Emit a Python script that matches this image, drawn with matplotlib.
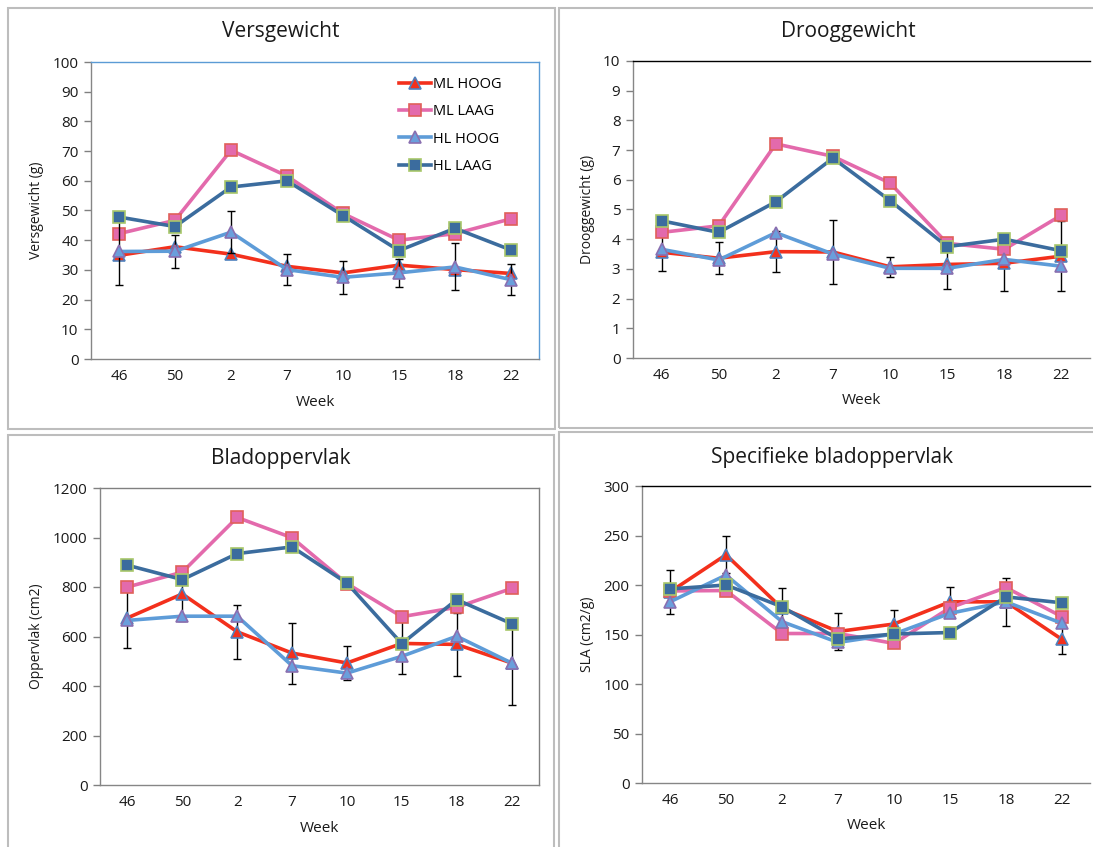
import matplotlib
matplotlib.use("Agg")
import matplotlib.pyplot as plt
from matplotlib.patches import Rectangle

plt.rcParams['font.family'] = ['Open Sans', 'DejaVu Sans']

weeks = ["46", "50", "2", "7", "10", "15", "18", "22"]
series = ["ML HOOG", "ML LAAG", "HL HOOG", "HL LAAG"]

# Versgewicht (g)
vers_ml_hoog = [34.9, 37.8, 35.3, 31.2, 29.0, 31.6, 30.1, 28.8]
vers_ml_laag = [42.2, 46.7, 70.3, 61.6, 49.0, 40.0, 42.2, 47.2]
vers_hl_hoog = [36.2, 36.3, 42.7, 30.1, 27.5, 29.0, 31.0, 26.7]
vers_hl_laag = [47.8, 44.6, 57.9, 60.0, 48.3, 36.5, 44.0, 36.7]
vers_err = [11.3, 5.6, 7.0, 5.2, 5.6, 4.7, 7.9, 5.3]   # on HL HOOG

# Drooggewicht (g)
droog_ml_hoog = [3.56, 3.36, 3.58, 3.57, 3.07, 3.15, 3.19, 3.43]
droog_ml_laag = [4.23, 4.45, 7.21, 6.79, 5.89, 3.86, 3.66, 4.81]
droog_hl_hoog = [3.66, 3.30, 4.22, 3.50, 3.02, 3.02, 3.32, 3.09]
droog_hl_laag = [4.62, 4.23, 5.26, 6.73, 5.30, 3.75, 4.00, 3.61]
droog_err = [0.63, 0.54, 0.69, 1.07, 0.33, 0.81, 0.93, 1.18]   # on ML HOOG

# Bladoppervlak (cm2)
blad_ml_hoog = [675, 772, 619, 533, 493, 572, 568, 493]
blad_ml_laag = [800, 860, 1081, 999, 814, 680, 718, 794]
blad_hl_hoog = [665, 682, 682, 482, 452, 520, 601, 493]
blad_hl_laag = [888, 830, 935, 962, 816, 571, 749, 652]
blad_err = [122, 109, 110, 123, 70, 124, 127, 171]   # on ML HOOG

# SLA (cm2/g)
sla_ml_hoog = [193, 230.5, 176.5, 153, 160.6, 183, 183, 145]
sla_ml_laag = [194, 194.4, 151, 151, 141, 177, 197.4, 168]
sla_hl_hoog = [183, 210, 163, 142, 150.5, 171.4, 183, 161.3]
sla_hl_laag = [196, 200, 178, 145.5, 150.5, 152, 188, 182]
sla_err = [22, 18.5, 20, 19, 14, 15, 24, 15]   # on ML HOOG

styles = {
    "ML HOOG": dict(color="#f3301c", marker="^", mfc="#f3301c", mec="#4f81bd"),
    "ML LAAG": dict(color="#e36aac", marker="s", mfc="#e36aac", mec="#e0605a"),
    "HL HOOG": dict(color="#5e9cd8", marker="^", mfc="#6a9fdc", mec="#8a6fb0"),
    "HL LAAG": dict(color="#3b6c9e", marker="s", mfc="#3b6c9e", mec="#a8c76a"),
}

W, H = 1093, 847
fig = plt.figure(figsize=(W / 100, H / 100), dpi=100)


def fr(x0, y0, x1, y1):
    return [x0 / W, 1 - y1 / H, (x1 - x0) / W, (y1 - y0) / H]


# panel frames
for (x0, y0, x1, y1) in [(8, 8, 555, 429), (559, 8, 1120, 428),
                         (8, 435, 554, 870), (559, 432, 1120, 870)]:
    fig.patches.append(Rectangle((x0 / W, 1 - y1 / H), (x1 - x0) / W, (y1 - y0) / H,
                                 transform=fig.transFigure, fill=False,
                                 edgecolor="#bdbdbd", linewidth=1.5))

panels = [
    dict(box=(91, 62, 539, 359), title="Versgewicht", tpos=(281, 32), wpos=402,
         ylabel="Versgewicht (g)", ylim=100, step=10,
         data=[vers_ml_hoog, vers_ml_laag, vers_hl_hoog, vers_hl_laag],
         err=vers_err, errser=2, spine=("#5b9bd5", "#5b9bd5"), legend=True),
    dict(box=(633, 61, 1090, 358), title="Drooggewicht", tpos=(848, 31), wpos=400,
         ylabel="Drooggewicht (g)", ylim=10, step=1,
         data=[droog_ml_hoog, droog_ml_laag, droog_hl_hoog, droog_hl_laag],
         err=droog_err, errser=0, spine=("black", None), legend=False),
    dict(box=(100, 488, 539, 785), title="Bladoppervlak", tpos=(281, 458), wpos=828,
         ylabel="Oppervlak (cm2)", ylim=1200, step=200,
         data=[blad_ml_hoog, blad_ml_laag, blad_hl_hoog, blad_hl_laag],
         err=blad_err, errser=0, spine=("#808080", "#808080"), legend=False),
    dict(box=(642, 486, 1090, 783), title="Specifieke bladoppervlak", tpos=(832, 457), wpos=825,
         ylabel="SLA (cm2/g)", ylim=300, step=50,
         data=[sla_ml_hoog, sla_ml_laag, sla_hl_hoog, sla_hl_laag],
         err=sla_err, errser=0, spine=("black", None), legend=False),
]

x = list(range(len(weeks)))
for p in panels:
    ax = fig.add_axes(fr(*p["box"]))
    for i, (name, vals) in enumerate(zip(series, p["data"])):
        st = styles[name]
        if i == p["errser"]:
            ax.errorbar(x, vals, yerr=p["err"], fmt="none", ecolor="black",
                        elinewidth=1, capsize=3, capthick=1, zorder=2 + i)
        ax.plot(x, vals, color=st["color"], lw=2.6, marker=st["marker"], ms=8,
                mfc=st["mfc"], mec=st["mec"], mew=1.2, label=name, zorder=2 + i)
    ax.set_xlim(-0.5, len(weeks) - 0.5)
    ax.set_ylim(0, p["ylim"])
    ax.set_yticks([k * p["step"] for k in range(int(round(p["ylim"] / p["step"])) + 1)])
    ax.set_xticks(x)
    ax.set_xticklabels(weeks)
    ax.tick_params(axis="x", length=0, pad=7, labelsize=11, labelcolor="#1a1a1a")
    ax.tick_params(axis="y", length=5, width=1, color="#808080", labelsize=11,
                   labelcolor="#1a1a1a", pad=4)
    ax.set_ylabel(p["ylabel"], fontsize=10, color="#1a1a1a", labelpad=6)
    for s in ("left", "bottom"):
        ax.spines[s].set_color("#868686")
    ax.spines["top"].set_color(p["spine"][0])
    if p["spine"][1] is None:
        ax.spines["right"].set_visible(False)
    else:
        ax.spines["right"].set_color(p["spine"][1])
    for s in ax.spines.values():
        s.set_linewidth(1)
    cx = (p["box"][0] + p["box"][2]) / 2
    fig.text(cx / W, 1 - p["wpos"] / H, "Week", ha="center", va="center",
             fontsize=11, color="#1a1a1a")
    fig.text(p["tpos"][0] / W, 1 - p["tpos"][1] / H, p["title"], ha="center",
             va="center", fontsize=15, color="#1a1a1a")
    if p["legend"]:
        ax.legend(loc="upper left", bbox_to_anchor=(0.675, 0.97), frameon=False,
                  fontsize=10.5, handlelength=2.2, handletextpad=0.1,
                  labelspacing=0.85, borderaxespad=0)

fig.savefig("out.png", dpi=100)
